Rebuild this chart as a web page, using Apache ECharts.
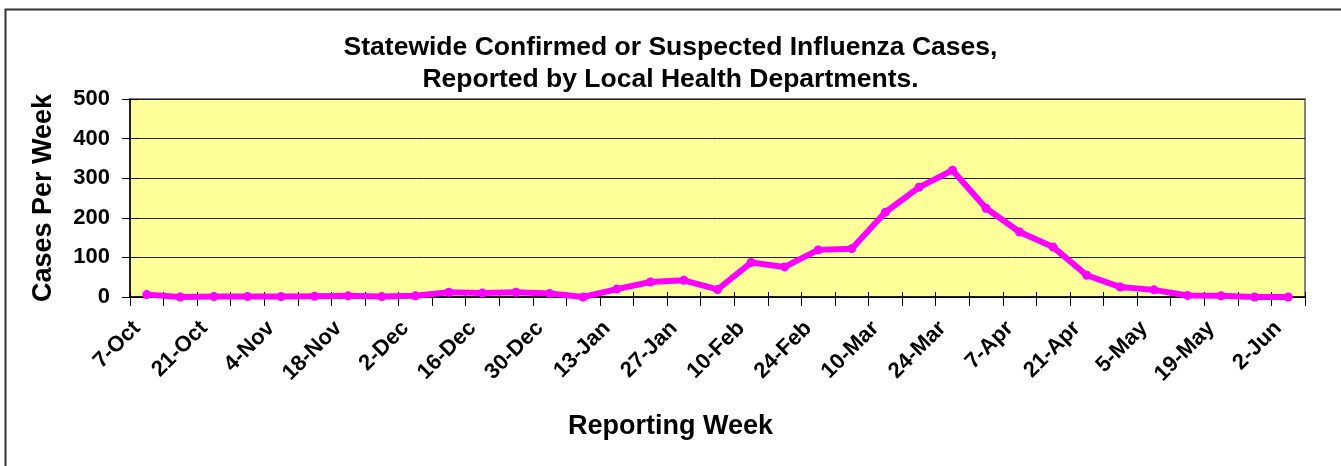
<!DOCTYPE html>
<html>
<head>
<meta charset="utf-8">
<script src="https://cdn.jsdelivr.net/npm/echarts@6/dist/echarts.min.js"></script>
<style>
html,body{margin:0;padding:0;background:#fff;}
#chart{width:1341px;height:466px;}
</style>
</head>
<body>
<div id="chart"></div>
<script>
const weeks = ["7-Oct","14-Oct","21-Oct","28-Oct","4-Nov","11-Nov","18-Nov","25-Nov","2-Dec","9-Dec","16-Dec","23-Dec","30-Dec","6-Jan","13-Jan","20-Jan","27-Jan","3-Feb","10-Feb","17-Feb","24-Feb","3-Mar","10-Mar","17-Mar","24-Mar","31-Mar","7-Apr","14-Apr","21-Apr","28-Apr","5-May","12-May","19-May","26-May","2-Jun"];
const cases = [6,0,1,1,1,2,3,1,3,12,10,12,9,0,20,38,42,19,87,76,119,122,214,277,320,224,164,126,55,25,18,4,3,0,0];
const yTicks = [0,100,200,300,400,500];

const FONT = "'Liberation Sans', Arial, sans-serif";
const chart = echarts.init(document.getElementById('chart'), null, {renderer:'canvas'});
chart.setOption({
  animation:false,
  backgroundColor:'#ffffff',
  graphic:[{
    type:'rect', left:3, top:7, silent:true,
    shape:{width:1400, height:500},
    style:{fill:'none', stroke:'#333333', lineWidth:2}
  }],
  title:[{
    text:'Statewide Confirmed or Suspected Influenza Cases,\nReported by Local Health Departments.',
    left:'center', top:27,
    textStyle:{fontFamily:FONT, fontWeight:'bold', fontSize:26.5, color:'#000', lineHeight:32}
  },{
    text:'Reporting Week',
    left:'center', top:408,
    textStyle:{fontFamily:FONT, fontWeight:'bold', fontSize:27, color:'#000'}
  }],
  grid:{left:130, top:99, right:36, bottom:169, show:true, backgroundColor:'#FFFF99', borderColor:'#808080', borderWidth:2},
  xAxis:[{
    type:'category', data:weeks, boundaryGap:true,
    axisLine:{show:true, lineStyle:{color:'#000', width:1.5}},
    axisTick:{show:true, interval:0, alignWithLabel:false, length:9, lineStyle:{color:'#000'}},
    axisLabel:{interval:1, rotate:45, margin:18, padding:[0,14,0,0], fontFamily:FONT, fontWeight:'bold', fontSize:22, color:'#000'},
    splitLine:{show:false}
  },{
    type:'category', data:weeks, boundaryGap:true, position:'bottom',
    axisLine:{show:false},
    axisTick:{show:true, inside:true, interval:0, alignWithLabel:false, length:5, lineStyle:{color:'#000'}},
    axisLabel:{show:false},
    splitLine:{show:false}
  }],
  yAxis:[{
    type:'value', min:0, max:500, interval:100,
    name:'Cases Per Week', nameLocation:'middle', nameGap:73,
    nameTextStyle:{fontFamily:FONT, fontWeight:'bold', fontSize:27, color:'#000'},
    axisLine:{show:true, lineStyle:{color:'#000', width:1.5}},
    axisTick:{show:true, length:8, lineStyle:{color:'#000'}},
    axisLabel:{margin:20, fontFamily:FONT, fontWeight:'bold', fontSize:22, color:'#000',
      formatter:function(v){return yTicks.indexOf(v)>=0 ? String(v) : '';}},
    splitLine:{show:true, lineStyle:{color:'#222', width:1}}
  },{
    type:'value', min:0, max:500, interval:100, position:'left',
    axisLine:{show:false},
    axisTick:{show:true, inside:true, length:8, lineStyle:{color:'#000'}},
    axisLabel:{show:false},
    splitLine:{show:false}
  }],
  series:[{
    type:'line', data:cases, xAxisIndex:0, yAxisIndex:0,
    symbol:'circle', symbolSize:9, showSymbol:true,
    lineStyle:{color:'#FF00FF', width:6},
    itemStyle:{color:'#FF00FF'},
    z:5
  }]
});
</script>
</body>
</html>
